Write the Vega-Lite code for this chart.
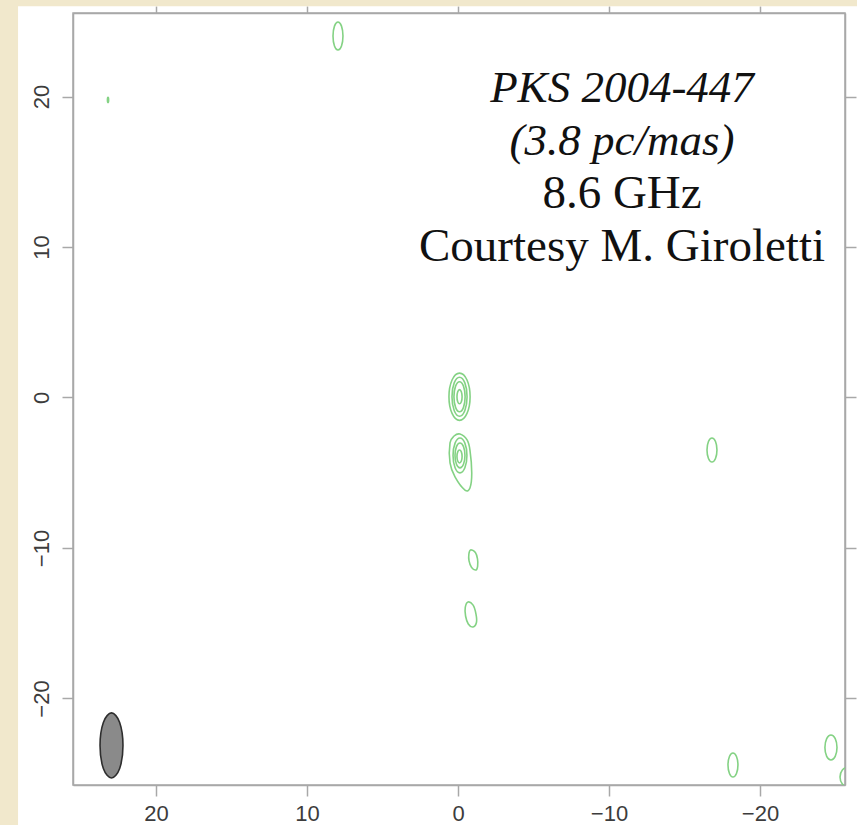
{
  "$schema": "https://vega.github.io/schema/vega-lite/v6.json",
  "width": 772,
  "height": 772,
  "autosize": {"type": "none"},
  "padding": {"left": 73, "top": 13, "right": 12, "bottom": 40},
  "background": "white",
  "title": {
    "text": ["PKS 2004-447", "(3.8 pc/mas)"],
    "subtitle": ["8.6 GHz", "Courtesy M. Giroletti"],
    "orient": "top",
    "anchor": "middle",
    "frame": "group",
    "dx": 163,
    "offset": -271,
    "font": "Liberation Serif",
    "fontSize": 45,
    "fontStyle": "italic",
    "fontWeight": "normal",
    "color": "#111111",
    "lineHeight": 53,
    "subtitleFont": "Liberation Serif",
    "subtitleFontSize": 47,
    "subtitleFontStyle": "normal",
    "subtitleFontWeight": "normal",
    "subtitleColor": "#111111",
    "subtitleLineHeight": 53,
    "subtitlePadding": 7
  },
  "datasets": {
    "strips": [{"side": "left"}],
    "beam": [
      {"o": 0, "x": 22.95, "y": -20.96},
      {"o": 1, "x": 23.49, "y": -21.59},
      {"o": 2, "x": 23.71, "y": -23.12},
      {"o": 3, "x": 23.49, "y": -24.65},
      {"o": 4, "x": 22.95, "y": -25.28},
      {"o": 5, "x": 22.41, "y": -24.65},
      {"o": 6, "x": 22.19, "y": -23.12},
      {"o": 7, "x": 22.41, "y": -21.59}
    ],
    "contours": [
      {"c": "core1", "o": 0, "x": -0.1, "y": 1.62},
      {"c": "core1", "o": 1, "x": 0.395, "y": 1.16},
      {"c": "core1", "o": 2, "x": 0.6, "y": 0.05},
      {"c": "core1", "o": 3, "x": 0.395, "y": -1.06},
      {"c": "core1", "o": 4, "x": -0.1, "y": -1.52},
      {"c": "core1", "o": 5, "x": -0.595, "y": -1.06},
      {"c": "core1", "o": 6, "x": -0.8, "y": 0.05},
      {"c": "core1", "o": 7, "x": -0.595, "y": 1.16},
      {"c": "core2", "o": 0, "x": -0.1, "y": 1.35},
      {"c": "core2", "o": 1, "x": 0.254, "y": 0.969},
      {"c": "core2", "o": 2, "x": 0.4, "y": 0.05},
      {"c": "core2", "o": 3, "x": 0.254, "y": -0.869},
      {"c": "core2", "o": 4, "x": -0.1, "y": -1.25},
      {"c": "core2", "o": 5, "x": -0.454, "y": -0.869},
      {"c": "core2", "o": 6, "x": -0.6, "y": 0.05},
      {"c": "core2", "o": 7, "x": -0.454, "y": 0.969},
      {"c": "core3", "o": 0, "x": -0.1, "y": 1.05},
      {"c": "core3", "o": 1, "x": -0.362, "y": 0.757},
      {"c": "core3", "o": 2, "x": -0.47, "y": 0.05},
      {"c": "core3", "o": 3, "x": -0.362, "y": -0.657},
      {"c": "core3", "o": 4, "x": -0.1, "y": -0.95},
      {"c": "core3", "o": 5, "x": 0.162, "y": -0.657},
      {"c": "core3", "o": 6, "x": 0.27, "y": 0.05},
      {"c": "core3", "o": 7, "x": 0.162, "y": 0.757},
      {"c": "core4", "o": 0, "x": -0.1, "y": 0.52},
      {"c": "core4", "o": 1, "x": -0.22, "y": 0.382},
      {"c": "core4", "o": 2, "x": -0.27, "y": 0.05},
      {"c": "core4", "o": 3, "x": -0.22, "y": -0.282},
      {"c": "core4", "o": 4, "x": -0.1, "y": -0.42},
      {"c": "core4", "o": 5, "x": 0.02, "y": -0.282},
      {"c": "core4", "o": 6, "x": 0.07, "y": 0.05},
      {"c": "core4", "o": 7, "x": 0.02, "y": 0.382},
      {"c": "knot1", "o": 0, "x": -0.13, "y": -2.43},
      {"c": "knot1", "o": 1, "x": -0.6, "y": -2.82},
      {"c": "knot1", "o": 2, "x": -0.79, "y": -3.49},
      {"c": "knot1", "o": 3, "x": -0.91, "y": -5.02},
      {"c": "knot1", "o": 4, "x": -0.79, "y": -6.01},
      {"c": "knot1", "o": 5, "x": -0.46, "y": -6.15},
      {"c": "knot1", "o": 6, "x": 0.2, "y": -5.28},
      {"c": "knot1", "o": 7, "x": 0.53, "y": -4.35},
      {"c": "knot1", "o": 8, "x": 0.53, "y": -3.02},
      {"c": "knot1", "o": 9, "x": 0.26, "y": -2.56},
      {"c": "knot2", "o": 0, "x": -0.13, "y": -2.69},
      {"c": "knot2", "o": 1, "x": 0.195, "y": -3.03},
      {"c": "knot2", "o": 2, "x": 0.33, "y": -3.85},
      {"c": "knot2", "o": 3, "x": 0.195, "y": -4.67},
      {"c": "knot2", "o": 4, "x": -0.13, "y": -5.01},
      {"c": "knot2", "o": 5, "x": -0.455, "y": -4.67},
      {"c": "knot2", "o": 6, "x": -0.59, "y": -3.85},
      {"c": "knot2", "o": 7, "x": -0.455, "y": -3.03},
      {"c": "knot3", "o": 0, "x": -0.13, "y": -3.02},
      {"c": "knot3", "o": 1, "x": -0.363, "y": -3.263},
      {"c": "knot3", "o": 2, "x": -0.46, "y": -3.85},
      {"c": "knot3", "o": 3, "x": -0.363, "y": -4.437},
      {"c": "knot3", "o": 4, "x": -0.13, "y": -4.68},
      {"c": "knot3", "o": 5, "x": 0.103, "y": -4.437},
      {"c": "knot3", "o": 6, "x": 0.2, "y": -3.85},
      {"c": "knot3", "o": 7, "x": 0.103, "y": -3.263},
      {"c": "knot4", "o": 0, "x": -0.1, "y": -3.49},
      {"c": "knot4", "o": 1, "x": -0.22, "y": -3.616},
      {"c": "knot4", "o": 2, "x": -0.27, "y": -3.92},
      {"c": "knot4", "o": 3, "x": -0.22, "y": -4.224},
      {"c": "knot4", "o": 4, "x": -0.1, "y": -4.35},
      {"c": "knot4", "o": 5, "x": 0.02, "y": -4.224},
      {"c": "knot4", "o": 6, "x": 0.07, "y": -3.92},
      {"c": "knot4", "o": 7, "x": 0.02, "y": -3.616},
      {"c": "top", "o": 0, "x": 7.95, "y": 24.95},
      {"c": "top", "o": 1, "x": 7.717, "y": 24.678},
      {"c": "top", "o": 2, "x": 7.62, "y": 24.02},
      {"c": "top", "o": 3, "x": 7.717, "y": 23.362},
      {"c": "top", "o": 4, "x": 7.95, "y": 23.09},
      {"c": "top", "o": 5, "x": 8.183, "y": 23.362},
      {"c": "top", "o": 6, "x": 8.28, "y": 24.02},
      {"c": "top", "o": 7, "x": 8.183, "y": 24.678},
      {"c": "tiny", "o": 0, "x": 23.18, "y": 19.94},
      {"c": "tiny", "o": 1, "x": 23.14, "y": 19.77},
      {"c": "tiny", "o": 2, "x": 23.18, "y": 19.6},
      {"c": "tiny", "o": 3, "x": 23.22, "y": 19.77},
      {"c": "k1", "o": 0, "x": -0.83, "y": -10.13},
      {"c": "k1", "o": 1, "x": -1.15, "y": -10.3},
      {"c": "k1", "o": 2, "x": -1.29, "y": -10.73},
      {"c": "k1", "o": 3, "x": -1.3, "y": -11.2},
      {"c": "k1", "o": 4, "x": -1.19, "y": -11.46},
      {"c": "k1", "o": 5, "x": -0.9, "y": -11.3},
      {"c": "k1", "o": 6, "x": -0.73, "y": -10.86},
      {"c": "k1", "o": 7, "x": -0.72, "y": -10.4},
      {"c": "k2", "o": 0, "x": -0.66, "y": -13.59},
      {"c": "k2", "o": 1, "x": -1.0, "y": -13.8},
      {"c": "k2", "o": 2, "x": -1.19, "y": -14.39},
      {"c": "k2", "o": 3, "x": -1.22, "y": -14.95},
      {"c": "k2", "o": 4, "x": -0.99, "y": -15.25},
      {"c": "k2", "o": 5, "x": -0.68, "y": -15.05},
      {"c": "k2", "o": 6, "x": -0.5, "y": -14.52},
      {"c": "k2", "o": 7, "x": -0.48, "y": -13.95},
      {"c": "k3", "o": 0, "x": -16.82, "y": -2.69},
      {"c": "k3", "o": 1, "x": -17.053, "y": -2.924},
      {"c": "k3", "o": 2, "x": -17.15, "y": -3.49},
      {"c": "k3", "o": 3, "x": -17.053, "y": -4.056},
      {"c": "k3", "o": 4, "x": -16.82, "y": -4.29},
      {"c": "k3", "o": 5, "x": -16.587, "y": -4.056},
      {"c": "k3", "o": 6, "x": -16.49, "y": -3.49},
      {"c": "k3", "o": 7, "x": -16.587, "y": -2.924},
      {"c": "k4", "o": 0, "x": -18.21, "y": -23.62},
      {"c": "k4", "o": 1, "x": -18.443, "y": -23.854},
      {"c": "k4", "o": 2, "x": -18.54, "y": -24.42},
      {"c": "k4", "o": 3, "x": -18.443, "y": -24.986},
      {"c": "k4", "o": 4, "x": -18.21, "y": -25.22},
      {"c": "k4", "o": 5, "x": -17.977, "y": -24.986},
      {"c": "k4", "o": 6, "x": -17.88, "y": -24.42},
      {"c": "k4", "o": 7, "x": -17.977, "y": -23.854},
      {"c": "k5", "o": 0, "x": -24.7, "y": -22.43},
      {"c": "k5", "o": 1, "x": -24.983, "y": -22.673},
      {"c": "k5", "o": 2, "x": -25.1, "y": -23.26},
      {"c": "k5", "o": 3, "x": -24.983, "y": -23.847},
      {"c": "k5", "o": 4, "x": -24.7, "y": -24.09},
      {"c": "k5", "o": 5, "x": -24.417, "y": -23.847},
      {"c": "k5", "o": 6, "x": -24.3, "y": -23.26},
      {"c": "k5", "o": 7, "x": -24.417, "y": -22.673},
      {"c": "k6", "o": 0, "x": -25.83, "y": -24.56},
      {"c": "k6", "o": 1, "x": -26.205, "y": -24.753},
      {"c": "k6", "o": 2, "x": -26.36, "y": -25.22},
      {"c": "k6", "o": 3, "x": -26.205, "y": -25.687},
      {"c": "k6", "o": 4, "x": -25.83, "y": -25.88},
      {"c": "k6", "o": 5, "x": -25.455, "y": -25.687},
      {"c": "k6", "o": 6, "x": -25.3, "y": -25.22},
      {"c": "k6", "o": 7, "x": -25.455, "y": -24.753}
    ]
  },
  "layer": [
    {
      "data": {"name": "strips"},
      "mark": {"type": "rect", "fill": "#f1e8cc", "clip": false},
      "encoding": {
        "x": {"datum": 31, "type": "quantitative", "axis": null},
        "x2": {"datum": 29.14},
        "y": {"datum": 26.45, "type": "quantitative", "axis": null},
        "y2": {"datum": -40}
      }
    },
    {
      "data": {"name": "strips"},
      "mark": {"type": "rect", "fill": "#f1e8cc", "clip": false},
      "encoding": {
        "x": {"datum": 31, "type": "quantitative", "axis": null},
        "x2": {"datum": -40},
        "y": {"datum": 26.45, "type": "quantitative", "axis": null},
        "y2": {"datum": 26.0}
      }
    },
    {
      "data": {"name": "beam"},
      "mark": {"type": "line", "interpolate": "cardinal-closed", "fill": "#8a8a8a", "stroke": "#2e2e2e", "strokeWidth": 1.6},
      "encoding": {
        "x": {"field": "x", "type": "quantitative", "axis": {"orient": "top", "labels": false, "tickSize": 7, "values": [20, 10, 0, -10, -20], "title": null}},
        "y": {"field": "y", "type": "quantitative", "axis": {"orient": "right", "labels": false, "tickSize": 11, "values": [20, 10, 0, -10, -20], "title": null}},
        "order": {"field": "o", "type": "quantitative"}
      }
    },
    {
      "data": {"name": "contours"},
      "mark": {"type": "line", "interpolate": "cardinal-closed", "stroke": "#84d284", "strokeWidth": 1.6, "clip": true},
      "encoding": {
        "x": {"field": "x", "type": "quantitative", "scale": {"domain": [25.5, -25.63], "nice": false, "zero": false}, "axis": {"orient": "bottom", "values": [20, 10, 0, -10, -20], "title": null, "labelPadding": 7}},
        "y": {"field": "y", "type": "quantitative", "scale": {"domain": [-25.75, 25.55], "nice": false, "zero": false}, "axis": {"orient": "left", "values": [20, 10, 0, -10, -20], "title": null, "labelAngle": -90, "labelPadding": 9}},
        "detail": {"field": "c", "type": "nominal"},
        "order": {"field": "o", "type": "quantitative"}
      }
    }
  ],
  "resolve": {"axis": {"x": "independent", "y": "independent"}},
  "config": {
    "view": {"stroke": "#a8a8a8", "strokeWidth": 1.5},
    "axis": {
      "grid": false,
      "domainColor": "#a8a8a8",
      "domainWidth": 1.5,
      "tickColor": "#a8a8a8",
      "tickWidth": 1.5,
      "tickSize": 11,
      "labelFont": "Liberation Sans",
      "labelFontSize": 22,
      "labelColor": "#3c3c3c"
    }
  }
}
